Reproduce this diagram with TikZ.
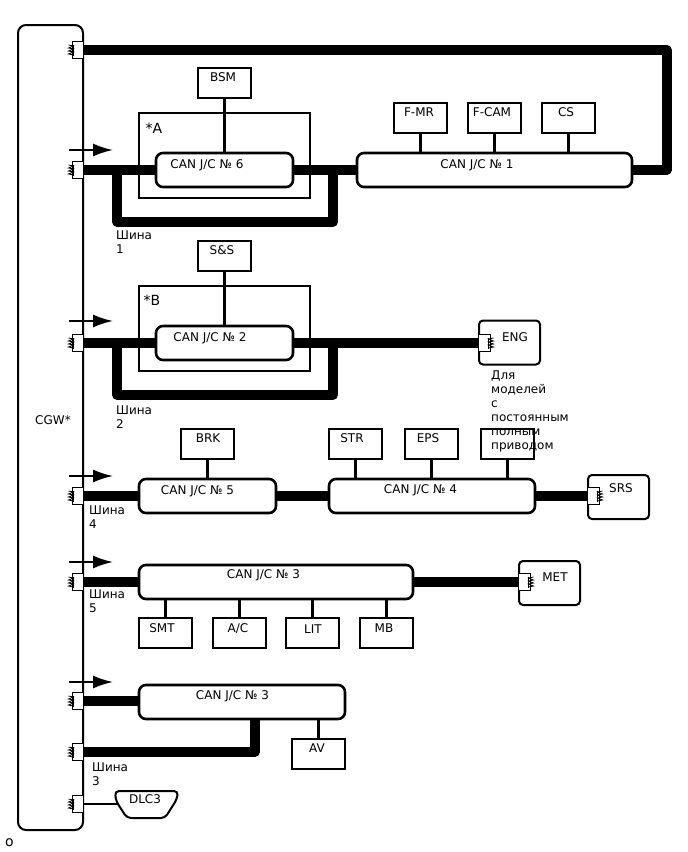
\documentclass[tikz,border=0pt]{standalone}
\usepackage{fontspec}
\setmainfont{DejaVu Sans}
\usetikzlibrary{arrows.meta}
\tikzset{
    box/.style={draw, line width=2pt, minimum width=53pt, minimum height=30pt, inner sep=0pt},
    junc/.style={draw, fill=white, line width=2.6pt, rounded corners=7pt, inner sep=0pt, minimum height=34pt},
    ecu/.style={draw, fill=white, line width=2pt, rounded corners=4pt, minimum width=61pt, minimum height=44pt, inner sep=0pt},
    zone/.style={draw, line width=2pt, inner sep=0pt},
    term/.style={draw, fill=white, line width=1pt, minimum width=11.5pt, minimum height=17pt, inner sep=0pt},
    bus/.style={line width=9.5pt, line join=round},
    stem/.style={line width=2.4pt},
    txt/.style={inner sep=0pt, font=\fontsize{12pt}{14pt}\selectfont},
    big/.style={inner sep=0pt, font=\fontsize{14pt}{16pt}\selectfont},
    note/.style={txt, anchor=north west, align=left},
    coil/.pic={
        \draw[line width=0.8pt] (-3,-5) -- (2,-4) -- (-3,-2) -- (2,-1) -- (-3,1) -- (2,2) -- (-3,4) -- (2,5);
        \draw[line width=0.8pt] (2,-5.5) -- (2,5.5);
    }
}
\begin{document}
\begin{tikzpicture}[x=1pt, y=-1pt]
    \useasboundingbox (0,0) rectangle (688,852);

    % gateway
    \node[draw, line width=2pt, rounded corners=8pt, minimum width=65pt, minimum height=805pt, inner sep=0pt] (cgw) at (50.5,427.5) {};
    \node[txt] (cgw-txt) at (53,420) {CGW*};

    % zones
    \node[zone, minimum width=171pt, minimum height=85pt] (zonea) at (224.5,155.5) {};
    \node[zone, minimum width=171pt, minimum height=85pt] (zoneb) at (224.5,328.5) {};
    \node[big] (zonea-txt) at (154,128) {*A};
    \node[big] (zoneb-txt) at (152,300) {*B};

    % junction connectors
    \foreach \n/\cx/\cy/\w/\tx/\ty/\t in {
        can6/224.5/170/137/207/165/{CAN J/C № 6},
        can1/494.5/170/275/477/165/{CAN J/C № 1},
        can2/224.5/343/137/210/338/{CAN J/C № 2},
        can5/207.5/496/137/197.5/491/{CAN J/C № 5},
        can4/432/496/206/420.5/490/{CAN J/C № 4},
        can3/276/582/274/263.5/575/{CAN J/C № 3},
        can3b/242/702/206/232.5/696/{CAN J/C № 3}} {
        \node[junc, minimum width=\w pt] (\n) at (\cx,\cy) {};
        \node[txt] (\n-txt) at (\tx,\ty) {\t};
    }

    % small units
    \foreach \n/\cx/\cy/\tx/\ty/\t in {
        bsm/224.5/83/223/77/BSM,
        fmr/420.5/118/419/112/F-MR,
        fcam/494.5/118/492/112/F-CAM,
        cs/568.5/118/566/112/CS,
        ss/224.5/256/222/250/S\&S,
        brk/207.5/444/208/438/BRK,
        str/355.5/444/352/438/STR,
        eps/431.5/444/428/438/EPS,
        blank/507.5/444/507/438/{},
        smt/165.5/633/162/628/SMT,
        ac/239.5/633/238/628.5/{A/C},
        lit/312.5/633/313/629/LIT,
        mb/386.5/633/384/628/MB,
        av/318.5/754/317/748/AV} {
        \node[box] (\n) at (\cx,\cy) {};
        \node[txt] (\n-txt) at (\tx,\ty) {\t};
    }

    % stubs to the junction connectors
    \foreach \a/\b in {bsm/can6, ss/can2, brk/can5} {
        \draw[stem] (\a.south) -- (\b.north);
    }
    \foreach \a in {fmr, fcam, cs} {
        \draw[stem] (\a.south) -- (\a.south |- can1.north);
    }
    \foreach \a in {str, eps, blank} {
        \draw[stem] (\a.south) -- (\a.south |- can4.north);
    }
    \foreach \a in {smt, ac, lit, mb} {
        \draw[stem] (\a.north) -- (\a.north |- can3.south);
    }
    \draw[stem] (av.north) -- (av.north |- can3b.south);

    % end units with a terminator inside
    \foreach \n/\cx/\cy/\tx/\ty/\t/\ry in {
        eng/509.5/342.5/515/337/ENG/343,
        srs/618.5/497/621/488/SRS/496,
        met/549.5/583/555/577/MET/582} {
        \node[ecu] (\n) at (\cx,\cy) {};
        \node[txt] (\n-txt) at (\tx,\ty) {\t};
        \node[term, anchor=west] (\n-t) at (\n.west |- 0,\ry) {};
        \pic[xscale=-1] at (\n-t.east) {coil};
    }

    % terminators on the gateway
    \foreach \n/\y in {ta/50, tb/170, tc/343, td/496, te/582, tf/701, tg/752, th/804} {
        \node[term, anchor=east] (\n) at (cgw.east |- 0,\y) {};
        \pic at (\n.west) {coil};
    }

    % diagnosis arrows
    \foreach \n/\y in {arra/150, arrb/321, arrc/476, arrd/562, arre/682} {
        \coordinate (\n) at (69,\y);
        \draw[line width=2pt, -{Latex[length=20pt, width=13pt]}] (\n) -- ++(44,0);
    }

    % bus 1
    \coordinate (back) at (667,170);
    \coordinate (lpa) at (117,170);
    \coordinate (lpb) at (333,222);
    \coordinate (lpc) at (333,170);
    \draw[bus] (ta.east) -| (back) -- (can1.east);
    \draw[bus] (tb.east) -- (can6.west);
    \draw[bus] (can6.east) -- (can1.west);
    \draw[bus] (lpa) |- (lpb) -- (lpc);
    % bus 2
    \coordinate (lqa) at (117,343);
    \coordinate (lqb) at (333,395);
    \coordinate (lqc) at (333,343);
    \draw[bus] (tc.east) -- (can2.west);
    \draw[bus] (can2.east) -- (eng-t.west);
    \draw[bus] (lqa) |- (lqb) -- (lqc);
    % bus 4 and 5
    \draw[bus] (td.east) -- (can5.west);
    \draw[bus] (can5.east) -- (can4.west);
    \draw[bus] (can4.east) -- (srs-t.west);
    \draw[bus] (te.east) -- (can3.west);
    \draw[bus] (can3.east) -- (met-t.west);
    % bus 3
    \coordinate (cnr) at (255,719);
    \draw[bus] (tf.east) -- (can3b.west |- tf.east);
    \draw[bus] (tg.east) -| (cnr);

    % bus captions
    \node[note] (busa) at (116,230.5) {Шина\\1};
    \node[note] (busb) at (116,405.5) {Шина\\2};
    \node[note] (busc) at (89,505.5) {Шина\\4};
    \node[note] (busd) at (89,589.5) {Шина\\5};
    \node[note] (buse) at (92,762.5) {Шина\\3};
    \node[note] (awd) at (491,370.5) {Для\\моделей\\с\\постоянным\\полным\\приводом};

    % diagnosis connector
    \node[txt] (dlc-txt) at (145,799) {DLC3};
    \draw[line width=2pt, rounded corners=4pt] (115,791) -- (178,791) -- (177,799) -- (165,818) -- (127,818) -- (116,801) -- cycle;
    \coordinate (dlc) at (118,804);
    \draw[line width=2pt] (th.east) -- (dlc);

    \node[big] (mark) at (9.5,843) {o};
\end{tikzpicture}
\end{document}
